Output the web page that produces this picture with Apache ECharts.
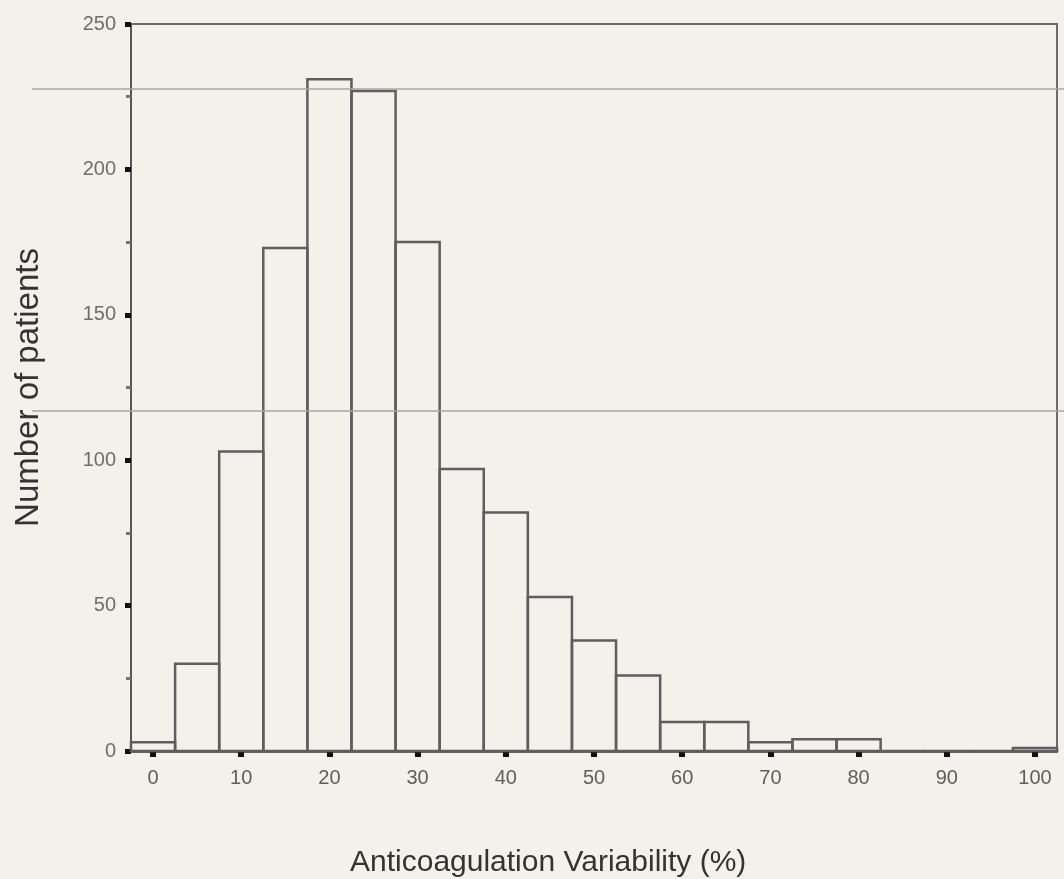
<!DOCTYPE html>
<html>
<head>
<meta charset="utf-8">
<script src="https://cdn.jsdelivr.net/npm/echarts@6/dist/echarts.min.js"></script>
<style>
  html, body { margin: 0; padding: 0; background: #f3f1eb; }
  #chart { width: 1064px; height: 879px; }
</style>
</head>
<body>
<div id="chart"></div>
<script>
// Histogram bins (centre of each 5%-wide bin) and patient counts
const binCenters = [0, 5, 10, 15, 20, 25, 30, 35, 40, 45, 50, 55, 60, 65, 70, 75, 80, 85, 90, 95, 100];
const patientCounts = [3, 30, 103, 173, 231, 227, 175, 97, 82, 53, 38, 26, 10, 10, 3, 4, 4, 0, 0, 0, 1];
const binWidth = 5;
const xTickValues = [0, 10, 20, 30, 40, 50, 60, 70, 80, 90, 100];
const yTickValues = [0, 50, 100, 150, 200, 250];
const xTitle = 'Anticoagulation Variability (%)';
const yTitle = 'Number of patients';

const chart = echarts.init(document.getElementById('chart'), null, { renderer: 'canvas' });
const fontFamily = '"Liberation Sans", Arial, sans-serif';

const option = {
  backgroundColor: '#f3f1eb',
  animation: false,
  grid: {
    left: 131, right: 7, top: 24, bottom: 128,
    show: true, borderColor: '#6a6a6a', borderWidth: 2, backgroundColor: 'transparent'
  },
  xAxis: {
    type: 'value',
    min: -2.5,
    max: 102.5,
    splitLine: { show: false },
    axisLine: { onZero: false, lineStyle: { color: '#3a3a3a', width: 2.5 } },
    axisTick: { show: true, customValues: xTickValues, inside: false, length: 6, lineStyle: { color: '#111', width: 6 } },
    axisLabel: { customValues: xTickValues, color: '#5e5e5e', fontSize: 20, margin: 17, fontFamily: fontFamily }
  },
  yAxis: {
    type: 'value',
    min: yTickValues[0],
    max: yTickValues[yTickValues.length - 1],
    interval: 50,
    name: yTitle,
    nameLocation: 'middle',
    nameGap: 86,
    nameTextStyle: { color: '#333', fontSize: 33, fontFamily: fontFamily },
    splitLine: { show: false },
    axisLine: { onZero: false, lineStyle: { color: '#555', width: 2 } },
    axisTick: { show: true, length: 6, lineStyle: { color: '#111', width: 5 } },
    minorTick: { show: true, splitNumber: 2, length: 5, lineStyle: { color: '#777', width: 3 } },
    axisLabel: { color: '#6e6e6e', fontSize: 20, margin: 15, fontFamily: fontFamily }
  },
  graphic: [
    { type: 'line', shape: { x1: 32, y1: 89, x2: 1064, y2: 89 }, style: { stroke: '#a8a6a2', lineWidth: 1.5 }, z: 100 },
    { type: 'line', shape: { x1: 32, y1: 411, x2: 1064, y2: 411 }, style: { stroke: '#a8a6a2', lineWidth: 1.5 }, z: 100 },
    { type: 'text', left: 350, top: 848, style: { text: xTitle, fill: '#333', font: '30px ' + fontFamily } }
  ],
  series: [{
    type: 'custom',
    data: binCenters.map((c, i) => [c, patientCounts[i]]),
    encode: { x: 0, y: 1 },
    renderItem: function (params, api) {
      const c = api.value(0);
      const v = api.value(1);
      const p0 = api.coord([c - binWidth / 2, v]);
      const p1 = api.coord([c + binWidth / 2, 0]);
      return {
        type: 'rect',
        shape: { x: p0[0], y: p0[1], width: p1[0] - p0[0], height: p1[1] - p0[1] },
        style: { fill: 'rgba(0,0,0,0)', stroke: '#5e5e5e', lineWidth: 2.5 }
      };
    }
  }]
};
chart.setOption(option);
</script>
</body>
</html>
